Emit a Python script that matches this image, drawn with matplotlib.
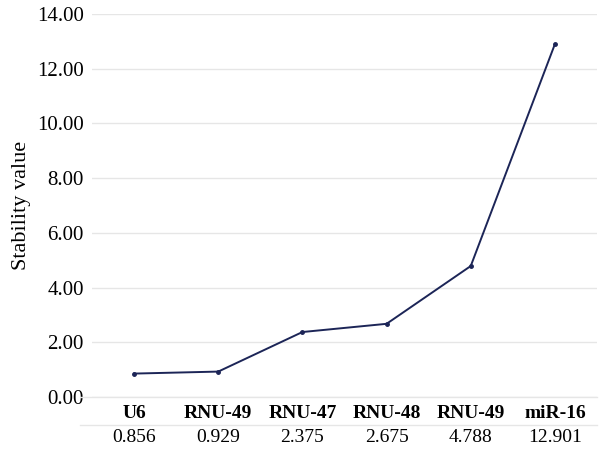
import matplotlib.pyplot as plt
import numpy as np

genes = ["U6", "RNU-49", "RNU-47", "RNU-48", "RNU-49", "miR-16"]
stability = [0.856, 0.929, 2.375, 2.675, 4.788, 12.901]
yticks = [0, 2, 4, 6, 8, 10, 12, 14]

plt.rcParams['font.family'] = ['Liberation Serif', 'DejaVu Serif']

fig = plt.figure(figsize=(6.02, 4.55), dpi=100)
ax = fig.add_axes([92 / 602, 1 - 397 / 455, 505 / 602, 383 / 455])

x = np.arange(len(genes))
ax.plot(x, stability, color='#1c2557', lw=1.4, marker='o', ms=2.5)

ax.set_xlim(-0.5, len(genes) - 0.5)
ax.set_ylim(0, 14)
ax.set_yticks(yticks)
ax.set_yticklabels(["%.2f" % v for v in yticks], fontsize=15)
ax.grid(axis='y', color='#e6e6e6', lw=1)
ax.set_axisbelow(True)
ax.set_xticks([])
for s in ax.spines.values():
    s.set_visible(False)
ax.tick_params(axis='y', length=0, pad=6)
ax.set_ylabel("Stability value", fontsize=16, labelpad=4)

# table below the chart
trans = ax.get_xaxis_transform()
x0 = -0.5 - 12 / 505 * len(genes)
for i, g in enumerate(genes):
    ax.text(i, -16 / 383, g, transform=trans, ha='center', va='center',
            fontsize=14, fontweight='bold', clip_on=False)
    ax.text(i, -40 / 383, "%.3f" % stability[i], transform=trans,
            ha='center', va='center', fontsize=14, clip_on=False)
for yy in [0, -28 / 383]:
    ax.plot([x0, len(genes) - 0.5], [yy, yy], transform=trans,
            color='#e6e6e6', lw=1, clip_on=False)

fig.savefig("out.png", dpi=100)
